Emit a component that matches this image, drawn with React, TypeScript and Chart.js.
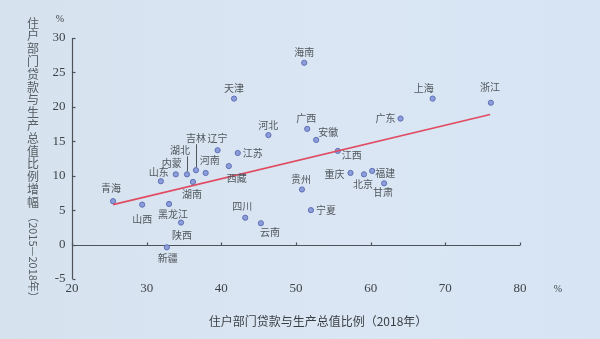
import React, { useEffect, useRef } from "react";
import { Chart, registerables } from "chart.js";

Chart.register(...registerables);

// ---- data ----
const provinces = [
  "青海", "山西", "黑龙江", "陕西", "新疆", "山东", "内蒙", "湖北", "吉林", "湖南",
  "河南", "辽宁", "西藏", "江苏", "天津", "四川", "云南", "河北", "贵州", "宁夏",
  "海南", "广西", "安徽", "江西", "重庆", "北京", "福建", "甘肃", "广东", "上海", "浙江",
];
const loanRatio2018 = [
  25.5, 29.4, 33.0, 34.6, 32.7, 31.9, 33.9, 35.4, 36.6, 36.2,
  37.9, 39.5, 41.0, 42.2, 41.7, 43.2, 45.3, 46.3, 50.8, 52.0,
  51.1, 51.5, 52.7, 55.6, 57.3, 59.1, 60.2, 61.8, 64.0, 68.3, 76.1,
];
const ratioGrowth = [
  6.3, 5.8, 5.9, 3.2, -0.4, 9.2, 10.2, 10.2, 10.8, 9.1,
  10.4, 13.7, 11.4, 13.3, 21.2, 3.9, 3.1, 15.9, 8.0, 5.0,
  26.4, 16.8, 15.2, 13.6, 10.4, 10.2, 10.7, 8.9, 18.3, 21.2, 20.6,
];
const trendX = [25.5, 76.0];
const trendY = [5.8, 18.9];
const xTicks = [20, 30, 40, 50, 60, 70, 80];
const yTicks = [-5, 0, 5, 10, 15, 20, 25, 30];
const xTitle = "住户部门贷款与生产总值比例（2018年）";
const yTitleMain = "住户部门贷款与生产总值比例增幅";
const yTitleYears = "（2015—2018年）";

// label placement (pixel offsets from each point) – layout only
const labelDx = [
  -2, 0, 4, 1, 1, -2, -4, -7, 0, -1,
  4, 0, 8, 15, 0, -3, 9, 0, -1, 15,
  0, -1, 12, 14, -16, -1, 13, -1, -15, -9, -1,
];
const labelDy = [
  -13, 15, 10, 13, 11, -9, -11, -24, -32, 12,
  -13, -12, 12, 0, -10, -12, 9, -10, -10, 0,
  -11, -11, -8, 4, 1, 10, 2, 9, 0, -10, -16,
];
const leaders = ["湖北", "吉林"];

const CJK = '"Noto Sans CJK SC", "Noto Sans", sans-serif';
const SERIF = '"Liberation Serif", "DejaVu Serif", serif';
const AXIS = "#4d5358";

const overlay = {
  id: "overlay",
  beforeDatasetsDraw(chart: any) {
    const ctx = chart.ctx;
    const xs = chart.scales.x;
    const ys = chart.scales.y;
    ctx.save();
    ctx.strokeStyle = AXIS;
    ctx.lineWidth = 1.2;
    // y axis
    const ax = Math.round(xs.getPixelForValue(20)) + 0.5;
    ctx.beginPath();
    ctx.moveTo(ax, ys.getPixelForValue(30));
    ctx.lineTo(ax, ys.getPixelForValue(-5));
    ctx.stroke();
    yTicks.forEach((t) => {
      const py = Math.round(ys.getPixelForValue(t)) + 0.5;
      ctx.beginPath();
      ctx.moveTo(ax, py);
      ctx.lineTo(ax + 3, py);
      ctx.stroke();
    });
    // x axis at y = 0
    const ay = Math.round(ys.getPixelForValue(0)) + 0.5;
    ctx.beginPath();
    ctx.moveTo(xs.getPixelForValue(20), ay);
    ctx.lineTo(xs.getPixelForValue(80), ay);
    ctx.stroke();
    xTicks.forEach((t) => {
      const px = Math.round(xs.getPixelForValue(t)) + 0.5;
      ctx.beginPath();
      ctx.moveTo(px, ay);
      ctx.lineTo(px, ay - 3);
      ctx.stroke();
    });
    // tick labels
    ctx.fillStyle = "#3e4448";
    ctx.font = `13px ${SERIF}`;
    ctx.textAlign = "right";
    ctx.textBaseline = "middle";
    yTicks.forEach((t) => {
      ctx.fillText(String(t), ax - 7, ys.getPixelForValue(t));
    });
    ctx.textAlign = "center";
    xTicks.forEach((t) => {
      ctx.fillText(String(t), xs.getPixelForValue(t), 289);
    });
    ctx.font = `10px ${SERIF}`;
    ctx.fillText("%", 60, 19);
    ctx.fillText("%", 558, 289);
    // x title
    ctx.font = `12px ${CJK}`;
    ctx.fillStyle = "#3a3f44";
    ctx.fillText(xTitle, 318, 321);
    // y title (vertical)
    ctx.fillStyle = "#565c62";
    ctx.font = `12px ${CJK}`;
    Array.from(yTitleMain).forEach((ch, i) => {
      ctx.fillText(ch, 33, 23 + i * 12.8);
    });
    ctx.save();
    ctx.translate(33, 257);
    ctx.rotate(Math.PI / 2);
    ctx.font = `11px ${CJK}`;
    ctx.fillText(yTitleYears, 0, 0);
    ctx.restore();
    ctx.restore();
  },
  afterDatasetsDraw(chart: any) {
    const ctx = chart.ctx;
    const meta = chart.getDatasetMeta(1);
    ctx.save();
    ctx.font = `10px ${CJK}`;
    ctx.fillStyle = "#50565c";
    ctx.textAlign = "center";
    ctx.textBaseline = "middle";
    ctx.strokeStyle = "#50565c";
    ctx.lineWidth = 1;
    meta.data.forEach((el: any, i: number) => {
      const lx = el.x + labelDx[i];
      const ly = el.y + labelDy[i];
      ctx.fillText(provinces[i], lx, ly);
      if (leaders.includes(provinces[i])) {
        const px = Math.round(el.x) + 0.5;
        ctx.beginPath();
        ctx.moveTo(px, ly + 6);
        ctx.lineTo(px, el.y - 3);
        ctx.stroke();
      }
    });
    ctx.restore();
  },
};

export default function App() {
  const ref = useRef<HTMLCanvasElement>(null);
  useEffect(() => {
    document.body.style.margin = "0";
    if (!ref.current) return;
    const chart = new Chart(ref.current, {
      type: "scatter",
      data: {
        datasets: [
          {
            type: "line",
            data: trendX.map((x, i) => ({ x, y: trendY[i] })),
            borderColor: "#e04b62",
            borderWidth: 1.6,
            pointRadius: 0,
            fill: false,
          } as any,
          {
            data: loanRatio2018.map((x, i) => ({ x, y: ratioGrowth[i] })),
            backgroundColor: "#8c9ddb",
            borderColor: "#5f6fb5",
            borderWidth: 1,
            pointRadius: 2.6,
          },
        ],
      },
      options: {
        responsive: false,
        animation: false,
        layout: { padding: { left: 72, right: 80, top: 38, bottom: 60 } },
        plugins: { legend: { display: false }, tooltip: { enabled: false } },
        scales: {
          x: { type: "linear", min: 20, max: 80, display: false },
          y: { type: "linear", min: -5, max: 30, display: false },
        },
      },
      plugins: [overlay],
    });
    return () => chart.destroy();
  }, []);
  return (
    <div
      style={{
        position: "fixed",
        left: 0,
        top: 0,
        width: 600,
        height: 339,
        background: "linear-gradient(90deg, #d6e3ef 0%, #dae6f3 60%, #d6e4f4 100%)",
      }}
    >
      <canvas ref={ref} width={600} height={339} />
    </div>
  );
}
